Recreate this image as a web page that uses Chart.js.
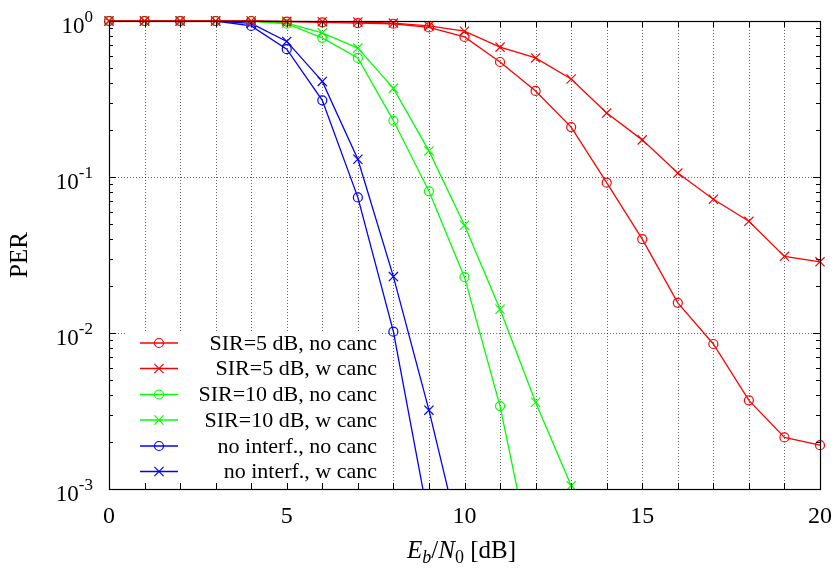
<!DOCTYPE html>
<html>
<head>
<meta charset="utf-8">
<script src="https://cdn.jsdelivr.net/npm/chart.js@4"></script>
<style>
html,body{margin:0;padding:0;background:#fff;}
#wrap{width:835px;height:569px;position:relative;}
</style>
</head>
<body>
<div id="wrap"><canvas id="c"></canvas></div>
<script>
// ---- data ----
const ebN0 = [0,1,2,3,4,5,6,7,8,9,10,11,12,13,14,15,16,17,18,19,20];
const sir5NoCanc  = [1,1,1,1,1,0.99,0.98,0.97,0.96,0.91,0.79,0.546,0.356,0.209,0.092,0.040,0.0156,0.0085,0.0037,0.00214,0.00191];
const sir5WCanc   = [1,1,1,1,1,0.995,0.99,0.985,0.97,0.93,0.86,0.68,0.58,0.425,0.257,0.173,0.106,0.072,0.052,0.031,0.0286];
const sir10NoCanc = [1,1,1,1,1,0.96,0.78,0.58,0.23,0.081,0.0228,0.0034,0.00027];
const sir10WCanc  = [1,1,1,1,1,0.97,0.84,0.67,0.37,0.147,0.049,0.0142,0.0036,0.00105];
const noIntNoCanc = [1,1,1,1,0.93,0.66,0.31,0.074,0.0102,0.00062];
const noIntWCanc  = [1,1,1,1,0.966,0.74,0.41,0.13,0.023,0.0032,0.00036];
const seriesLabels = ['SIR=5 dB, no canc','SIR=5 dB, w canc','SIR=10 dB, no canc','SIR=10 dB, w canc','no interf., no canc','no interf., w canc'];
const xTickLabels = [0,5,10,15,20];
const yTickValues = [1,0.1,0.01,0.001];
const yTickExponents = ['0','-1','-2','-3'];
const yAxisTitle = 'PER';

// ---- styling ----
const SERIF = '"Liberation Serif", "Times New Roman", serif';
const RED='#ff0000', GREEN='#00ff00', BLUE='#0000ff';
const seriesValues = [sir5NoCanc,sir5WCanc,sir10NoCanc,sir10WCanc,noIntNoCanc,noIntWCanc];
const seriesColors = [RED,RED,GREEN,GREEN,BLUE,BLUE];
const seriesMarkers = ['circle','crossRot','circle','crossRot','circle','crossRot'];

function toPoints(vals){ return vals.map((v,i)=>({x:ebN0[i], y:v})); }

const datasets = seriesValues.map((vals,i)=>({
  label: seriesLabels[i],
  data: toPoints(vals),
  borderColor: seriesColors[i],
  backgroundColor: 'rgba(0,0,0,0)',
  borderWidth: 1.3,
  pointStyle: seriesMarkers[i],
  pointRadius: seriesMarkers[i]==='circle'?4.5:6.5,
  pointBorderWidth: 1.2,
  pointBorderColor: seriesColors[i],
  pointBackgroundColor: 'rgba(0,0,0,0)',
  tension: 0,
  clip: {left:10, top:10, right:10, bottom:0}
}));

function line(ctx,x1,y1,x2,y2){ctx.beginPath();ctx.moveTo(x1,y1);ctx.lineTo(x2,y2);ctx.stroke();}

const decor = {
  id:'decor',
  beforeDatasetsDraw(chart){
    const {ctx, chartArea:a, scales:{x,y}} = chart;
    ctx.save();
    ctx.strokeStyle='rgba(0,0,0,0.6)'; ctx.lineWidth=1; ctx.setLineDash([1,2]);
    for(let v=1; v<20; v++){
      const px=Math.round(x.getPixelForValue(v))+0.5;
      line(ctx,px,a.top,px,a.bottom);
    }
    for(const v of yTickValues){
      const py=Math.round(y.getPixelForValue(v))+0.5;
      line(ctx,a.left,py,a.right,py);
    }
    ctx.restore();
  },
  afterDatasetsDraw(chart){
    const {ctx, chartArea:a, scales:{x,y}} = chart;
    ctx.save();
    // legend (opaque box)
    const lx0=125, lx1=380, ly0=331;
    ctx.fillStyle='#fff';
    ctx.fillRect(lx0,ly0,lx1-lx0,a.bottom-ly0);
    const rowY=[343,368.5,394.5,420,446,471.5];
    ctx.font='22px '+SERIF; ctx.textAlign='right'; ctx.textBaseline='middle';
    chart.data.datasets.forEach((ds,i)=>{
      const yy=rowY[i];
      ctx.strokeStyle=ds.borderColor; ctx.lineWidth=1.3; ctx.setLineDash([]);
      line(ctx,140,yy,178,yy);
      ctx.lineWidth=1.2;
      if(ds.pointStyle==='circle'){
        ctx.beginPath(); ctx.arc(159,yy,4.5,0,Math.PI*2); ctx.stroke();
      } else {
        const d=4.6; line(ctx,159-d,yy-d,159+d,yy+d); line(ctx,159-d,yy+d,159+d,yy-d);
      }
      ctx.fillStyle='#000';
      ctx.fillText(ds.label,377,yy+1);
    });
    // frame
    ctx.strokeStyle='#000'; ctx.lineWidth=1.2; ctx.setLineDash([]);
    ctx.strokeRect(Math.round(a.left)+0.5,Math.round(a.top)+0.5,Math.round(a.right-a.left),Math.round(a.bottom-a.top));
    ctx.lineWidth=1;
    // x ticks
    for(let v=0; v<=20; v++){
      const px=Math.round(x.getPixelForValue(v))+0.5;
      line(ctx,px,a.bottom,px,a.bottom-6);
      line(ctx,px,a.top,px,a.top+6);
    }
    // y ticks (major + minor)
    for(let e=0; e>=-3; e--){
      const py2=Math.round(y.getPixelForValue(Math.pow(10,e)))+0.5;
      line(ctx,a.left,py2,a.left+7,py2); line(ctx,a.right,py2,a.right-7,py2);
      if(e===-3) continue;
      for(let m=2;m<=9;m++){
        const py=Math.round(y.getPixelForValue(m*Math.pow(10,e-1)))+0.5;
        line(ctx,a.left,py,a.left+4,py); line(ctx,a.right,py,a.right-4,py);
      }
    }
    ctx.restore();
  },
  afterDraw(chart){
    const {ctx, chartArea:a, scales:{x,y}} = chart;
    ctx.save();
    ctx.fillStyle='#000';
    // y tick labels with superscripts
    const baseF='23px '+SERIF, expF='17px '+SERIF;
    yTickValues.forEach((v,i)=>{
      const py=y.getPixelForValue(v);
      ctx.font=expF; const ew=ctx.measureText(yTickExponents[i]).width;
      const right=93;
      ctx.font=baseF; ctx.textAlign='right'; ctx.textBaseline='alphabetic';
      ctx.fillText('10',right-ew,py+12);
      ctx.font=expF; ctx.textAlign='left';
      ctx.fillText(yTickExponents[i],right-ew,py+1);
    });
    // x axis title: E_b/N_0 [dB]
    const parts=[
      {t:'E',f:'italic 25px '+SERIF,dy:0},
      {t:'b',f:'italic 18px '+SERIF,dy:5},
      {t:'/',f:'25px '+SERIF,dy:0},
      {t:'N',f:'italic 25px '+SERIF,dy:0},
      {t:'0',f:'18px '+SERIF,dy:5},
      {t:' [dB]',f:'25px '+SERIF,dy:0}
    ];
    let total=0;
    parts.forEach(p=>{ctx.font=p.f; p.w=ctx.measureText(p.t).width; total+=p.w;});
    let cx=(a.left+a.right)/2-total/2-3; const base=558;
    ctx.textAlign='left'; ctx.textBaseline='alphabetic';
    parts.forEach(p=>{ctx.font=p.f; ctx.fillText(p.t,cx,base+p.dy); cx+=p.w;});
    ctx.restore();
  }
};

new Chart(document.getElementById('c'),{
  type:'line',
  data:{datasets},
  options:{
    responsive:true, maintainAspectRatio:false, animation:false,
    layout:{padding:{top:21,right:15,left:0,bottom:0}},
    plugins:{legend:{display:false},tooltip:{enabled:false}},
    scales:{
      x:{type:'linear',min:0,max:20,
        grid:{display:false,drawTicks:false},border:{display:false},
        ticks:{stepSize:1,autoSkip:false,maxRotation:0,padding:13,color:'#000',
          font:{family:SERIF,size:24},
          callback:(v)=>xTickLabels.includes(v)?String(v):''},
        afterFit:(s)=>{s.height=80; s.paddingRight=0; s.paddingLeft=0;}
      },
      y:{type:'logarithmic',min:0.001,max:1,
        grid:{display:false,drawTicks:false},border:{display:false},
        ticks:{display:false},
        title:{display:true,text:yAxisTitle,color:'#000',font:{family:SERIF,size:25},padding:{top:5,bottom:0}},
        afterFit:(s)=>{s.width=109;}
      }
    }
  },
  plugins:[decor]
});
</script>
</body>
</html>
